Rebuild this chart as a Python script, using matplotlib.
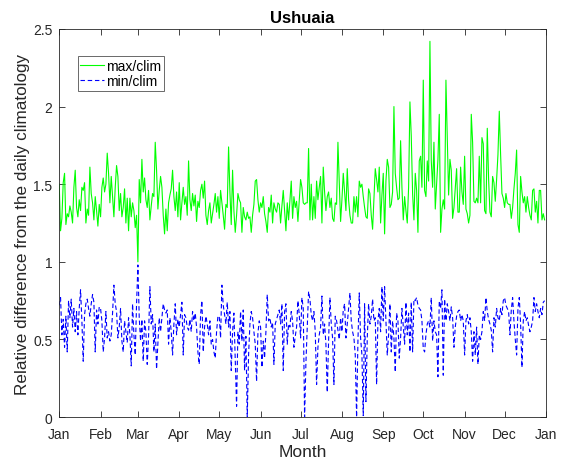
import matplotlib

matplotlib.use("Agg")
import matplotlib.pyplot as plt
import numpy as np

plt.rcParams["font.family"] = ["Liberation Sans", "DejaVu Sans"]

# Daily values, one list per month (Jan..Dec).
max_clim_by_month = [
    [1.50, 1.20, 1.28, 1.51, 1.57, 1.24, 1.31, 1.29, 1.36, 1.32, 1.25, 1.48, 1.59, 1.35, 1.29, 1.40,
     1.33, 1.48, 1.46, 1.51, 1.25, 1.34, 1.30, 1.61, 1.44, 1.38, 1.27, 1.42, 1.33, 1.23, 1.37],
    [1.29, 1.48, 1.54, 1.45, 1.50, 1.70, 1.57, 1.38, 1.55, 1.42, 1.29, 1.48, 1.62, 1.55, 1.33, 1.44,
     1.29, 1.35, 1.47, 1.25, 1.41, 1.20, 1.41, 1.29, 1.38, 1.33, 1.22, 1.30],
    [1.00, 1.53, 1.38, 1.66, 1.45, 1.54, 1.40, 1.35, 1.46, 1.27, 1.36, 1.44, 1.42, 1.77, 1.59, 1.34,
     1.46, 1.55, 1.48, 1.30, 1.18, 1.34, 1.20, 1.38, 1.43, 1.47, 1.59, 1.42, 1.33, 1.45, 1.29],
    [1.51, 1.27, 1.38, 1.48, 1.37, 1.42, 1.30, 1.65, 1.40, 1.33, 1.44, 1.36, 1.43, 1.26, 1.39, 1.35,
     1.46, 1.50, 1.41, 1.52, 1.30, 1.24, 1.33, 1.38, 1.25, 1.31, 1.37, 1.44, 1.32, 1.42],
    [1.28, 1.46, 1.38, 1.30, 1.21, 1.37, 1.35, 1.74, 1.45, 1.24, 1.59, 1.33, 1.19, 1.30, 1.44, 1.40,
     1.38, 1.19, 1.35, 1.29, 1.27, 1.32, 1.28, 1.29, 1.19, 1.30, 1.37, 1.52, 1.53, 1.40, 1.32],
    [1.38, 1.35, 1.42, 1.31, 1.26, 1.19, 1.35, 1.32, 1.43, 1.25, 1.38, 1.34, 1.32, 1.38, 1.37, 1.25,
     1.36, 1.46, 1.33, 1.20, 1.38, 1.27, 1.40, 1.52, 1.28, 1.42, 1.35, 1.39, 1.26, 1.40],
    [1.53, 1.48, 1.38, 1.37, 1.38, 1.38, 1.73, 1.27, 1.50, 1.27, 1.42, 1.28, 1.52, 1.40, 1.48, 1.55,
     1.25, 1.61, 1.45, 1.33, 1.42, 1.45, 1.35, 1.41, 1.28, 1.26, 1.38, 1.37, 1.77, 1.51, 1.26],
    [1.40, 1.57, 1.45, 1.33, 1.60, 1.40, 1.30, 1.25, 1.25, 1.42, 1.32, 1.42, 1.29, 1.52, 1.48, 1.50,
     1.42, 1.35, 1.29, 1.28, 1.47, 1.44, 1.30, 1.21, 1.41, 1.60, 1.53, 1.45, 1.61, 1.25, 1.43],
    [1.57, 1.18, 1.52, 1.66, 1.61, 1.35, 1.37, 1.45, 2.00, 1.57, 1.48, 1.40, 1.41, 1.78, 1.48, 1.27,
     1.42, 1.33, 1.25, 1.48, 2.03, 1.81, 1.44, 1.27, 1.57, 1.46, 1.19, 1.65, 1.68, 1.48],
    [2.17, 1.46, 1.42, 1.65, 1.52, 2.42, 1.65, 1.48, 1.77, 1.34, 1.50, 1.66, 1.95, 1.19, 1.34, 1.40,
     1.34, 2.17, 1.81, 1.43, 1.66, 1.59, 1.28, 1.35, 1.48, 1.60, 1.32, 1.32, 1.61, 1.45, 1.37],
    [1.68, 1.34, 1.31, 1.25, 1.30, 1.95, 1.77, 1.39, 1.38, 1.41, 1.38, 1.68, 1.38, 1.80, 1.76, 1.33,
     1.31, 1.86, 1.53, 1.32, 1.29, 1.55, 1.51, 1.39, 1.53, 1.69, 1.97, 1.69, 1.44, 1.41],
    [1.35, 1.44, 1.38, 1.37, 1.37, 1.28, 1.35, 1.47, 1.57, 1.72, 1.24, 1.19, 1.55, 1.45, 1.38, 1.42,
     1.32, 1.42, 1.35, 1.30, 1.27, 1.46, 1.47, 1.32, 1.39, 1.25, 1.46, 1.46, 1.27, 1.31, 1.27],
]

min_clim_by_month = [
    [0.72, 0.77, 0.53, 0.63, 0.45, 0.65, 0.42, 0.75, 0.64, 0.76, 0.58, 0.70, 0.55, 0.68, 0.53, 0.70,
     0.82, 0.62, 0.36, 0.66, 0.73, 0.76, 0.70, 0.65, 0.73, 0.79, 0.74, 0.42, 0.69, 0.60, 0.71],
    [0.70, 0.62, 0.42, 0.51, 0.68, 0.51, 0.55, 0.49, 0.53, 0.67, 0.85, 0.73, 0.68, 0.51, 0.58, 0.70,
     0.49, 0.42, 0.62, 0.55, 0.48, 0.64, 0.53, 0.33, 0.73, 0.53, 0.40, 0.73],
    [0.98, 0.64, 0.49, 0.63, 0.36, 0.62, 0.55, 0.34, 0.52, 0.84, 0.60, 0.66, 0.42, 0.60, 0.31, 0.47,
     0.64, 0.55, 0.64, 0.73, 0.69, 0.67, 0.69, 0.47, 0.64, 0.55, 0.40, 0.60, 0.73, 0.53, 0.63],
    [0.58, 0.66, 0.74, 0.40, 0.66, 0.64, 0.58, 0.56, 0.63, 0.55, 0.68, 0.62, 0.67, 0.58, 0.42, 0.34,
     0.66, 0.75, 0.42, 0.58, 0.65, 0.60, 0.53, 0.62, 0.47, 0.50, 0.42, 0.38, 0.55, 0.65],
    [0.65, 0.51, 0.85, 0.72, 0.66, 0.60, 0.74, 0.58, 0.68, 0.30, 0.55, 0.67, 0.38, 0.07, 0.55, 0.47,
     0.68, 0.49, 0.69, 0.30, 0.52, 0.00, 0.40, 0.60, 0.68, 0.64, 0.55, 0.47, 0.23, 0.54, 0.62],
    [0.58, 0.32, 0.49, 0.38, 0.55, 0.79, 0.62, 0.64, 0.58, 0.61, 0.34, 0.60, 0.63, 0.66, 0.69, 0.60,
     0.73, 0.30, 0.68, 0.73, 0.47, 0.60, 0.58, 0.68, 0.62, 0.45, 0.52, 0.58, 0.75, 0.66],
    [0.51, 0.77, 0.70, 0.00, 0.35, 0.58, 0.81, 0.76, 0.66, 0.62, 0.68, 0.55, 0.21, 0.45, 0.53, 0.58,
     0.78, 0.53, 0.60, 0.47, 0.16, 0.49, 0.77, 0.60, 0.51, 0.21, 0.65, 0.62, 0.56, 0.50, 0.64],
    [0.55, 0.69, 0.73, 0.51, 0.60, 0.70, 0.80, 0.62, 0.55, 0.51, 0.40, 0.00, 0.49, 0.80, 0.51, 0.40,
     0.01, 0.73, 0.10, 0.51, 0.73, 0.60, 0.65, 0.76, 0.62, 0.64, 0.21, 0.62, 0.70, 0.55, 0.84],
    [0.62, 0.84, 0.62, 0.40, 0.53, 0.73, 0.42, 0.62, 0.51, 0.29, 0.67, 0.62, 0.38, 0.51, 0.70, 0.58,
     0.47, 0.74, 0.53, 0.67, 0.42, 0.74, 0.42, 0.76, 0.75, 0.77, 0.72, 0.70, 0.69, 0.62],
    [0.44, 0.42, 0.53, 0.60, 0.62, 0.58, 0.77, 0.49, 0.62, 0.55, 0.53, 0.26, 0.75, 0.70, 0.82, 0.27,
     0.76, 0.62, 0.73, 0.68, 0.62, 0.71, 0.64, 0.45, 0.58, 0.65, 0.68, 0.69, 0.62, 0.66, 0.62],
    [0.40, 0.62, 0.66, 0.60, 0.64, 0.55, 0.36, 0.55, 0.40, 0.58, 0.34, 0.53, 0.50, 0.55, 0.68, 0.62,
     0.77, 0.68, 0.63, 0.60, 0.56, 0.42, 0.64, 0.58, 0.70, 0.64, 0.62, 0.70, 0.66, 0.75],
    [0.77, 0.72, 0.70, 0.68, 0.53, 0.69, 0.77, 0.62, 0.50, 0.40, 0.70, 0.77, 0.60, 0.32, 0.62, 0.68,
     0.62, 0.64, 0.59, 0.55, 0.58, 0.62, 0.77, 0.68, 0.73, 0.68, 0.64, 0.70, 0.66, 0.74, 0.75],
]

month_labels = ["Jan", "Feb", "Mar", "Apr", "May", "Jun", "Jul", "Aug", "Sep", "Oct", "Nov", "Dec", "Jan"]
month_lengths = [31, 28, 31, 30, 31, 30, 31, 31, 30, 31, 30, 31]

max_clim = np.concatenate(max_clim_by_month)
min_clim = np.concatenate(min_clim_by_month)
days = np.arange(len(max_clim))
month_starts = np.concatenate([[0], np.cumsum(month_lengths)])

axis_color = "#262626"

fig = plt.figure(figsize=(5.64, 4.60), dpi=100)
ax = fig.add_axes([0.105, 0.091, 0.863, 0.844])

ax.plot(days, max_clim, color=(0, 1, 0), linewidth=0.8, label="max/clim")
ax.plot(days, min_clim, color=(0, 0, 1), linewidth=0.8, linestyle=(0, (4, 2.5)), label="min/clim")

ax.set_xlim(0, 365)
ax.set_ylim(0, 2.5)
ax.set_xticks(month_starts)
ax.set_xticklabels(month_labels)
ax.set_yticks([0, 0.5, 1, 1.5, 2, 2.5])
ax.set_yticklabels(["0", "0.5", "1", "1.5", "2", "2.5"])

ax.tick_params(direction="in", length=4, width=0.6, top=True, right=True,
               labelsize=10, colors=axis_color)
ax.tick_params(axis="x", pad=7)
ax.tick_params(axis="y", pad=5)
for spine in ax.spines.values():
    spine.set_color(axis_color)
    spine.set_linewidth(0.6)

ax.set_title("Ushuaia", fontsize=12, fontweight="bold", color="black", pad=5)
ax.set_xlabel("Month", fontsize=12.5, color=axis_color, labelpad=2)
ax.set_ylabel("Relative difference from the daily climatology", fontsize=12.3, color=axis_color,
              labelpad=2)

leg = ax.legend(loc="upper left", bbox_to_anchor=(0.038, 0.93), fontsize=10, frameon=True,
                fancybox=False, edgecolor=axis_color, handlelength=1.7, handletextpad=0.15,
                borderpad=0.2, labelspacing=0.1, borderaxespad=0)
leg.get_frame().set_linewidth(0.6)

fig.savefig("out.png", dpi=100)
